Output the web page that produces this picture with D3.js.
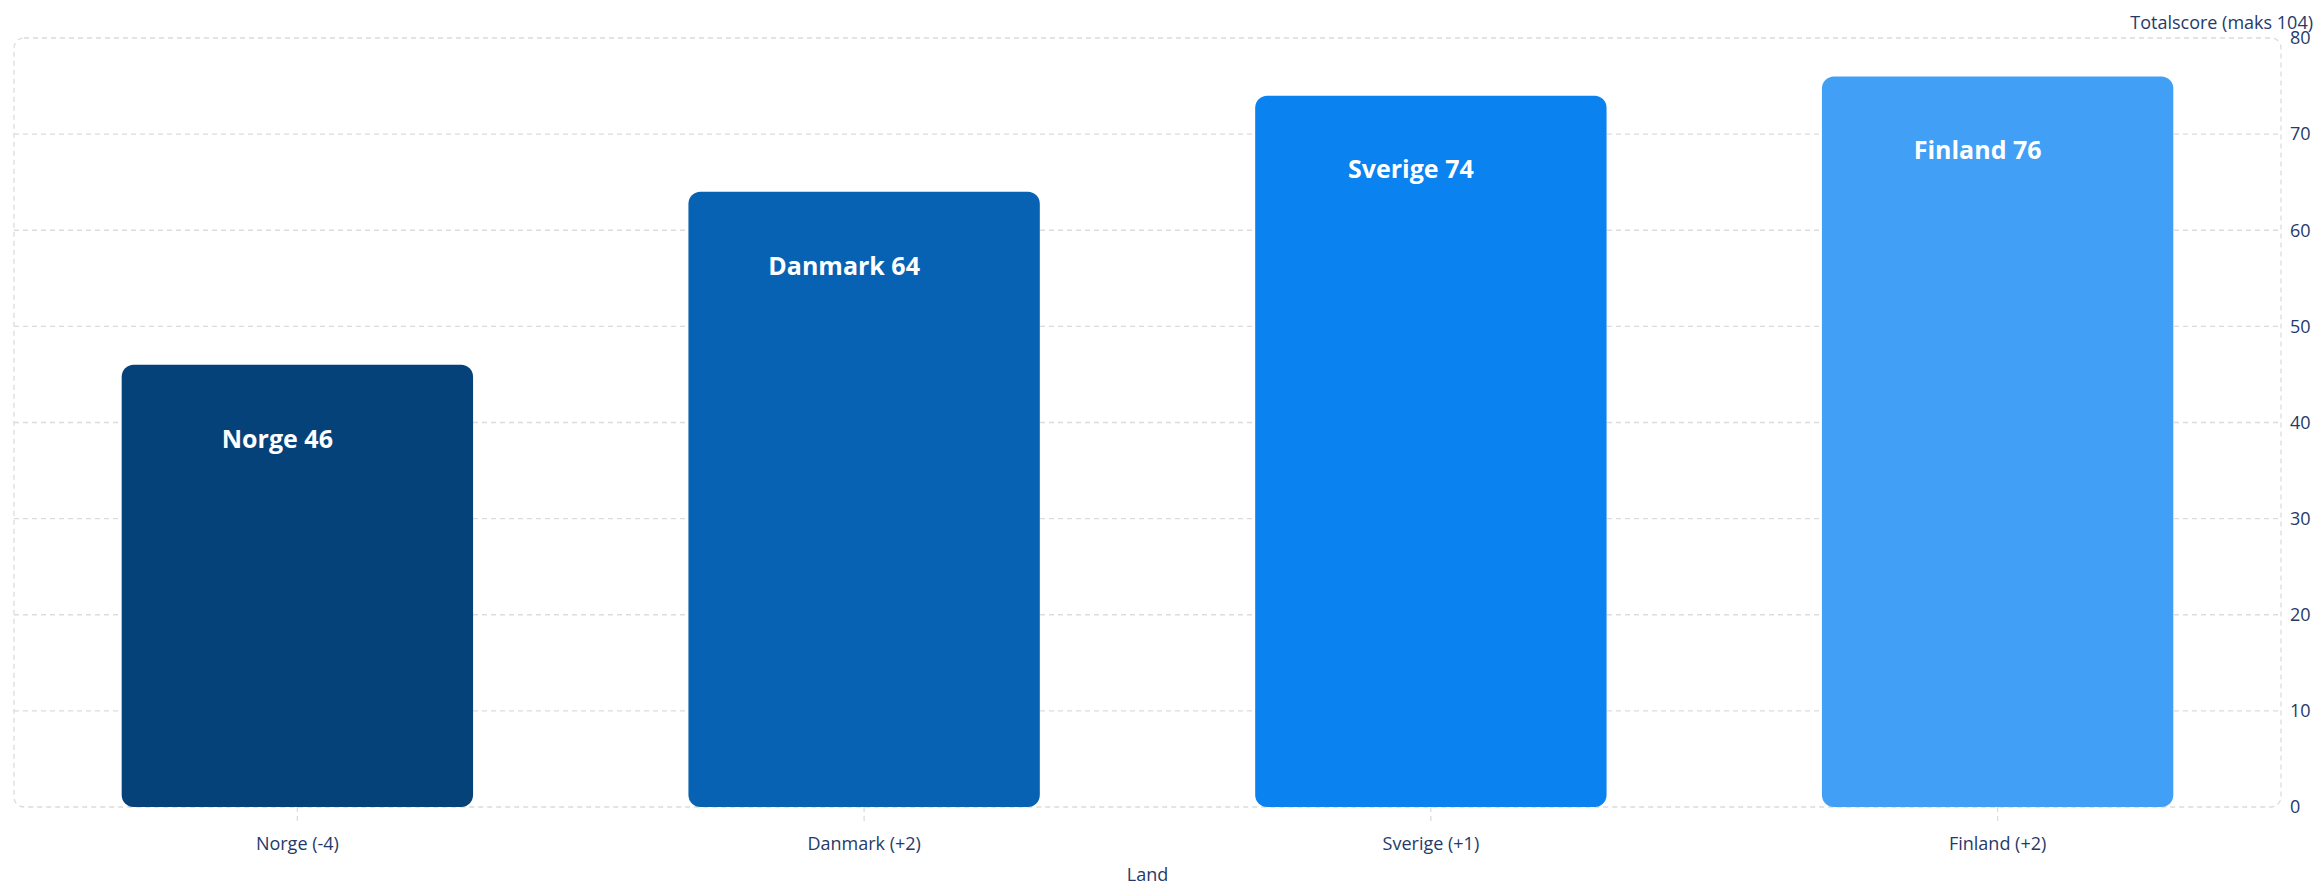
<!DOCTYPE html>
<html>
<head>
<meta charset="utf-8">
<script src="https://cdn.jsdelivr.net/npm/d3@7"></script>
<style>
  html, body { margin: 0; padding: 0; background: #fff; }
  svg { display: block; font-family: "Open Sans", "Noto Sans", sans-serif; }
</style>
</head>
<body>
<div id="chart"></div>
<script>
// data
var countries = ["Norge", "Danmark", "Sverige", "Finland"];
var changes = ["-4", "+2", "+1", "+2"];
var scores = [46, 64, 74, 76];
var barColors = ["#06427a", "#0862b4", "#0a82f0", "#41a0f6"];
var yTicks = [0, 10, 20, 30, 40, 50, 60, 70, 80];

var W = 2317, H = 885;
var margin = {top: 38, right: 36, bottom: 78, left: 14};
var textColor = "#253a6b",
	gridColor = "#dcdcdc";

var svg = d3.select("#chart").append("svg")
	.attr("width", W)
	.attr("height", H);

var x = d3.scaleBand()
	.domain(countries)
	.range([margin.left, W - margin.right])
	.paddingInner(0.38)
	.paddingOuter(0.19);

var y = d3.scaleLinear()
	.domain([0, 80])
	.range([H - margin.bottom, margin.top]);

//-----------------------------------------------------
// grid + dashed rounded frame
//-----------------------------------------------------
var grid = svg.append("g");
grid.selectAll("line.h")
	.data(yTicks.filter(function(d) { return d > 0 && d < 80; }))
	.enter().append("line")
	.attr("class", "h")
	.attr("x1", margin.left)
	.attr("x2", W - margin.right)
	.attr("y1", function(d) { return y(d); })
	.attr("y2", function(d) { return y(d); })
	.attr("stroke", gridColor)
	.attr("stroke-width", 1.3)
	.attr("stroke-dasharray", "5,4");

grid.append("rect")
	.attr("x", margin.left)
	.attr("y", y(80))
	.attr("width", W - margin.right - margin.left)
	.attr("height", y(0) - y(80))
	.attr("rx", 10)
	.attr("fill", "none")
	.attr("stroke", gridColor)
	.attr("stroke-width", 1.3)
	.attr("stroke-dasharray", "5,4");

// x ticks (small dashed stubs under the baseline)
grid.selectAll("line.xt")
	.data(countries)
	.enter().append("line")
	.attr("class", "xt")
	.attr("x1", function(d) { return x(d) + x.bandwidth() / 2; })
	.attr("x2", function(d) { return x(d) + x.bandwidth() / 2; })
	.attr("y1", y(0))
	.attr("y2", y(0) + 14)
	.attr("stroke", gridColor)
	.attr("stroke-width", 1.3)
	.attr("stroke-dasharray", "5,4");

//-----------------------------------------------------
// bars
//-----------------------------------------------------
var bars = svg.append("g").selectAll("g")
	.data(countries)
	.enter().append("g");

bars.append("rect")
	.attr("x", function(d) { return x(d); })
	.attr("y", function(d, i) { return y(scores[i]); })
	.attr("width", x.bandwidth())
	.attr("height", function(d, i) { return y(0) - y(scores[i]); })
	.attr("rx", 12)
	.attr("fill", function(d, i) { return barColors[i]; });

bars.append("text")
	.attr("x", function(d) { return x(d) + x.bandwidth() / 2 - 20; })
	.attr("y", function(d, i) { return y(scores[i]) + 74; })
	.attr("dy", "0.35em")
	.attr("text-anchor", "middle")
	.attr("fill", "#fff")
	.attr("font-weight", "bold")
	.attr("font-size", 25)
	.text(function(d, i) { return d + " " + scores[i]; });

//-----------------------------------------------------
// axes text
//-----------------------------------------------------
var yAxis = d3.axisRight(y).tickValues(yTicks).tickSize(0).tickPadding(9);
var yg = svg.append("g")
	.attr("transform", "translate(" + (W - margin.right) + ",0)")
	.call(yAxis);
yg.select(".domain").remove();
yg.selectAll("text")
	.attr("fill", textColor)
	.attr("font-size", 18)
	.attr("font-family", "'Open Sans', 'Noto Sans', sans-serif");

var xAxis = d3.axisBottom(x)
	.tickSize(0)
	.tickPadding(30)
	.tickFormat(function(d, i) { return d + " (" + changes[i] + ")"; });
var xg = svg.append("g")
	.attr("transform", "translate(0," + y(0) + ")")
	.call(xAxis);
xg.select(".domain").remove();
xg.selectAll("text")
	.attr("fill", textColor)
	.attr("font-size", 18)
	.attr("font-family", "'Open Sans', 'Noto Sans', sans-serif");

svg.append("text")
	.attr("x", (margin.left + W - margin.right) / 2)
	.attr("y", 875)
	.attr("dy", "0.35em")
	.attr("text-anchor", "middle")
	.attr("fill", textColor)
	.attr("font-size", 18)
	.text("Land");

svg.append("text")
	.attr("x", W - 4)
	.attr("y", 23)
	.attr("dy", "0.35em")
	.attr("text-anchor", "end")
	.attr("fill", textColor)
	.attr("font-size", 18)
	.text("Totalscore (maks 104)");
</script>
</body>
</html>
